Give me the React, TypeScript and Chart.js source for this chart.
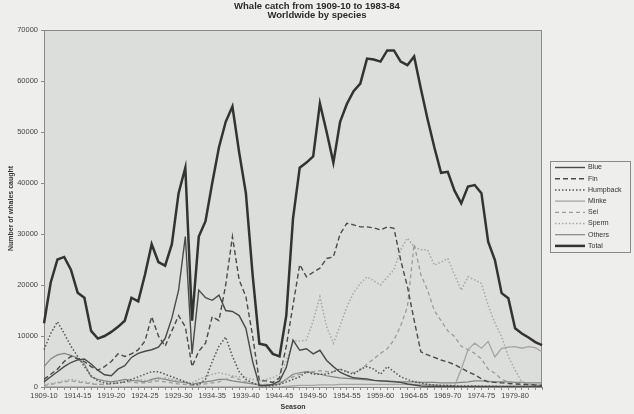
import React, { useEffect, useRef } from "react";
import { Chart, registerables } from "chart.js";

Chart.register(...registerables);

const SEASONS = [
  "1909-10", "1910-11", "1911-12", "1912-13", "1913-14", "1914-15", "1915-16", "1916-17", "1917-18", "1918-19",
  "1919-20", "1920-21", "1921-22", "1922-23", "1923-24", "1924-25", "1925-26", "1926-27", "1927-28", "1928-29",
  "1929-30", "1930-31", "1931-32", "1932-33", "1933-34", "1934-35", "1935-36", "1936-37", "1937-38", "1938-39",
  "1939-40", "1940-41", "1941-42", "1942-43", "1943-44", "1944-45", "1945-46", "1946-47", "1947-48", "1948-49",
  "1949-50", "1950-51", "1951-52", "1952-53", "1953-54", "1954-55", "1955-56", "1956-57", "1957-58", "1958-59",
  "1959-60", "1960-61", "1961-62", "1962-63", "1963-64", "1964-65", "1965-66", "1966-67", "1967-68", "1968-69",
  "1969-70", "1970-71", "1971-72", "1972-73", "1973-74", "1974-75", "1975-76", "1976-77", "1977-78", "1978-79",
  "1979-80", "1980-81", "1981-82", "1982-83", "1983-84",
];

const BLUE = [
  1000, 2000, 3000, 4000, 4800, 5300, 5500, 4500, 3300, 2400,
  2200, 3500, 4200, 5800, 6600, 7000, 7300, 7800, 9500, 13500,
  19000, 29500, 6500, 19000, 17500, 17000, 18000, 15000, 14800, 14000,
  11500, 5000, 300, 300, 500, 1200, 3800, 9200, 7200, 7500,
  6500, 7200, 5200, 4000, 2900, 2300, 1800, 1700, 1600, 1300,
  1200, 1100, 1000, 900, 600, 400, 200, 150, 150, 100,
  100, 100, 100, 100, 100, 100, 100, 100, 100, 100,
  100, 100, 100, 100, 100,
];

const FIN = [
  1500, 2500, 3500, 5000, 6000, 5500, 5000, 4000, 3300, 4000,
  5000, 6500, 6000, 6500, 7300, 9000, 13800, 10000, 8000, 11000,
  14000, 11800, 4000, 7000, 8600, 13800, 13000, 20000, 29500, 21000,
  17700, 10000, 1200, 1200, 900, 1800, 8000, 16000, 24000, 21600,
  22500, 23300, 25200, 25500, 30000, 32100, 31800, 31400, 31400, 31200,
  30800, 31400, 31100, 24900, 19700, 13100, 6900, 6300, 5800, 5300,
  4900, 4400, 3700, 3000, 2400, 1600, 1000, 900, 800, 700,
  600, 500, 500, 400, 300,
];

const HUMPBACK = [
  7300, 10500, 12800, 10500, 8000, 6000, 4000, 2200, 1200, 800,
  700, 800, 1000, 1500, 2000, 2500, 3000, 3000, 2500, 2000,
  1500, 1000, 500, 500, 1500, 5000, 8000, 9800, 6000, 3000,
  1500, 800, 300, 200, 300, 500, 1000, 1500, 2000, 3000,
  2500, 2500, 2500, 3000, 3500, 3000, 2500, 3500, 4000, 3500,
  2500, 4000, 3000, 2000, 1500, 1000, 800, 500, 400, 300,
  300, 250, 200, 200, 200, 150, 150, 150, 100, 100,
  100, 100, 100, 100, 100,
];

const MINKE = [
  0, 0, 0, 0, 0, 0, 0, 0, 0, 0,
  0, 0, 0, 0, 0, 0, 0, 0, 0, 0,
  0, 0, 0, 0, 0, 0, 0, 0, 0, 0,
  0, 0, 0, 0, 0, 0, 100, 200, 300, 300,
  300, 400, 400, 400, 500, 500, 500, 500, 500, 500,
  500, 500, 500, 500, 500, 500, 500, 500, 400, 300,
  300, 200, 3500, 7300, 8600, 7600, 8900, 5900, 7600, 7800,
  7900, 7600, 7900, 7700, 6900,
];

const SEI = [
  300, 500, 800, 1000, 1200, 1000, 800, 600, 500, 500,
  600, 800, 1000, 1000, 800, 800, 1000, 1200, 1000, 800,
  600, 500, 300, 400, 600, 800, 1000, 1500, 2000, 1500,
  1000, 800, 500, 500, 600, 800, 1500, 2000, 2500, 2800,
  3000, 3200, 3000, 3000, 3500, 3000, 2800, 3300, 4500, 5500,
  6600, 7500, 9200, 12000, 15700, 28000, 22000, 19000, 15000, 13000,
  11000, 9900, 8000, 7300, 6600, 5500, 3500, 2700, 1500, 1000,
  800, 600, 500, 400, 300,
];

const SPERM = [
  500, 700, 900, 1200, 1500, 1200, 1000, 800, 500, 500,
  600, 800, 1000, 1200, 1500, 1300, 1200, 1500, 1800, 1500,
  1200, 1000, 800, 1500, 2000, 2500, 2800, 2500, 2200, 2000,
  1800, 1500, 1200, 1500, 1800, 2500, 5000, 9000, 9000, 9200,
  13000, 17700, 11800, 8600, 12000, 15700, 18500, 20300, 21600, 20800,
  20000, 21500, 23000, 26900, 29200, 27500, 26900, 26900, 23900, 24500,
  25200, 22000, 19000, 21600, 21000, 20300, 16000, 12500, 9900, 6000,
  3300, 1000, 600, 400, 300,
];

const OTHERS = [
  4000, 5500, 6300, 6600, 6200, 5700, 4500, 2000, 1500, 1200,
  1000, 1200, 1500, 1300, 1200, 1000, 1500, 1800, 1500, 1200,
  1000, 900, 500, 800, 1000, 1200, 1500, 1500, 1200, 1000,
  800, 600, 400, 300, 400, 600, 1500, 2500, 2800, 3000,
  2800, 2500, 2200, 2000, 1800, 1700, 1600, 1500, 1400, 1300,
  1200, 1200, 1100, 1000, 1000, 1000, 900, 900, 900, 800,
  800, 800, 900, 1000, 1200, 1200, 1100, 1000, 1000, 1000,
  900, 900, 800, 800, 800,
];

const TOTAL = [
  12500, 20500, 25000, 25500, 23000, 18500, 17500, 11000, 9500, 10000,
  10800, 11800, 13000, 17500, 16800, 22000, 28000, 24500, 23800, 28000,
  38000, 43000, 13000, 29500, 32500, 40000, 47000, 52000, 55000, 46000,
  38000, 22000, 8500, 8200, 6500, 6000, 14000, 33000, 43000, 44000,
  45200, 55600, 50000, 44000, 52000, 55500, 58000, 59500, 64400, 64200,
  63800, 66000, 66000, 63800, 63100, 64800, 58500, 52500, 47000, 42000,
  42200, 38500, 36000, 39300, 39600, 38000, 28500, 24900, 18400, 17400,
  11500, 10500, 9700, 8800, 8200,
];

const Y_TICKS_MAX = 70000;
const Y_TICKS_STEP = 10000;
const TITLE_LINES = ["Whale catch from 1909-10 to 1983-84", "Worldwide by species"];
const Y_TITLE = "Number of whales caught";
const X_TITLE = "Season";

const FONT = '"Liberation Sans", Arial, sans-serif';
const PAGE_BG = "#eeefed";
const PLOT_BG = "#dcdedb";

export default function App() {
  const ref = useRef<HTMLCanvasElement | null>(null);

  useEffect(() => {
    const canvas = ref.current;
    if (!canvas) return;

    const decor = {
      id: "decor",
      beforeDraw(chart: any) {
        const { ctx, chartArea: a, width, height } = chart;
        ctx.save();
        ctx.fillStyle = PAGE_BG;
        ctx.fillRect(0, 0, width, height);
        ctx.fillStyle = PLOT_BG;
        ctx.fillRect(a.left, a.top, a.right - a.left, a.bottom - a.top);
        ctx.strokeStyle = "#8a8a8a";
        ctx.lineWidth = 1;
        ctx.strokeRect(a.left + 0.5, a.top + 0.5, a.right - a.left - 1, a.bottom - a.top);
        ctx.restore();
      },
      afterDraw(chart: any) {
        const { ctx, width } = chart;
        ctx.save();
        // title
        ctx.fillStyle = "#2a2a2a";
        ctx.font = `bold 9.5px ${FONT}`;
        ctx.textAlign = "center";
        ctx.textBaseline = "middle";
        TITLE_LINES.forEach((t, i) => ctx.fillText(t, width / 2, 6 + i * 9.5));
        // legend
        const bx = 550, by = 161, bw = 80, bh = 91;
        ctx.strokeStyle = "#8a8a8a";
        ctx.lineWidth = 1;
        ctx.strokeRect(bx + 0.5, by + 0.5, bw, bh);
        ctx.font = `7px ${FONT}`;
        ctx.textAlign = "left";
        chart.data.datasets.forEach((ds: any, i: number) => {
          const y = by + 6.5 + i * 11.2;
          ctx.beginPath();
          ctx.strokeStyle = ds.borderColor;
          ctx.lineWidth = ds.borderWidth;
          ctx.setLineDash(ds.borderDash || []);
          ctx.moveTo(bx + 5, y);
          ctx.lineTo(bx + 35, y);
          ctx.stroke();
          ctx.setLineDash([]);
          ctx.fillStyle = "#333";
          ctx.fillText(ds.label, bx + 38, y);
        });
        ctx.restore();
      },
    };

    const mk = (label: string, data: number[], color: string, width: number, dash: number[], order = 0) => ({
      label,
      data,
      borderColor: color,
      backgroundColor: color,
      borderWidth: width,
      borderDash: dash,
      pointRadius: 0,
      tension: 0,
      fill: false,
      order,
    });

    const chart = new Chart(canvas, {
      type: "line",
      data: {
        labels: SEASONS,
        datasets: [
          mk("Blue", BLUE, "#4a4a4a", 1.4, []),
          mk("Fin", FIN, "#4a4a4a", 1.4, [5, 3]),
          mk("Humpback", HUMPBACK, "#555555", 1.5, [1.5, 2]),
          mk("Minke", MINKE, "#a5a5a5", 1.3, []),
          mk("Sei", SEI, "#9c9c9c", 1.3, [4, 3]),
          mk("Sperm", SPERM, "#a8a8a8", 1.5, [1.5, 2]),
          mk("Others", OTHERS, "#858585", 1.2, []),
          mk("Total", TOTAL, "#333333", 2.5, [], -1),
        ],
      },
      plugins: [decor],
      options: {
        animation: false,
        responsive: false,
        devicePixelRatio: 1,
        layout: { padding: { top: 30, right: 92, bottom: 0, left: 0 } },
        plugins: {
          legend: { display: false },
          title: { display: false },
          tooltip: { enabled: false },
        },
        scales: {
          x: {
            type: "category",
            offset: false,
            grid: { drawOnChartArea: false, drawTicks: true, tickLength: 3, color: "#8a8a8a" },
            border: { display: true, color: "#8a8a8a" },
            ticks: {
              autoSkip: false,
              maxRotation: 0,
              minRotation: 0,
              padding: 1,
              color: "#444",
              font: { family: FONT, size: 7.5 },
              callback: (_v: any, idx: number) => (idx % 5 === 0 ? SEASONS[idx] : ""),
            },
            title: {
              display: true,
              text: X_TITLE,
              color: "#333",
              font: { family: FONT, size: 7, weight: "bold" },
              padding: { top: 0, bottom: 3 },
            },
            afterFit: (s: any) => {
              s.height = 27;
            },
          },
          y: {
            min: 0,
            max: Y_TICKS_MAX,
            grid: { drawOnChartArea: false, drawTicks: true, tickLength: 3, color: "#8a8a8a" },
            border: { display: true, color: "#8a8a8a" },
            ticks: {
              stepSize: Y_TICKS_STEP,
              padding: 3,
              color: "#444",
              font: { family: FONT, size: 7.5 },
              callback: (v: any) => String(v),
            },
            title: {
              display: true,
              text: Y_TITLE,
              color: "#333",
              font: { family: FONT, size: 7, weight: "bold" },
              padding: { top: 7, bottom: 0 },
            },
            afterFit: (s: any) => {
              s.width = 44;
            },
          },
        },
      } as any,
    });

    return () => chart.destroy();
  }, []);

  return (
    <div style={{ position: "fixed", left: 0, top: 0, width: 634, height: 414, background: PAGE_BG }}>
      <canvas ref={ref} width={634} height={414} style={{ display: "block", width: 634, height: 414 }} />
    </div>
  );
}
